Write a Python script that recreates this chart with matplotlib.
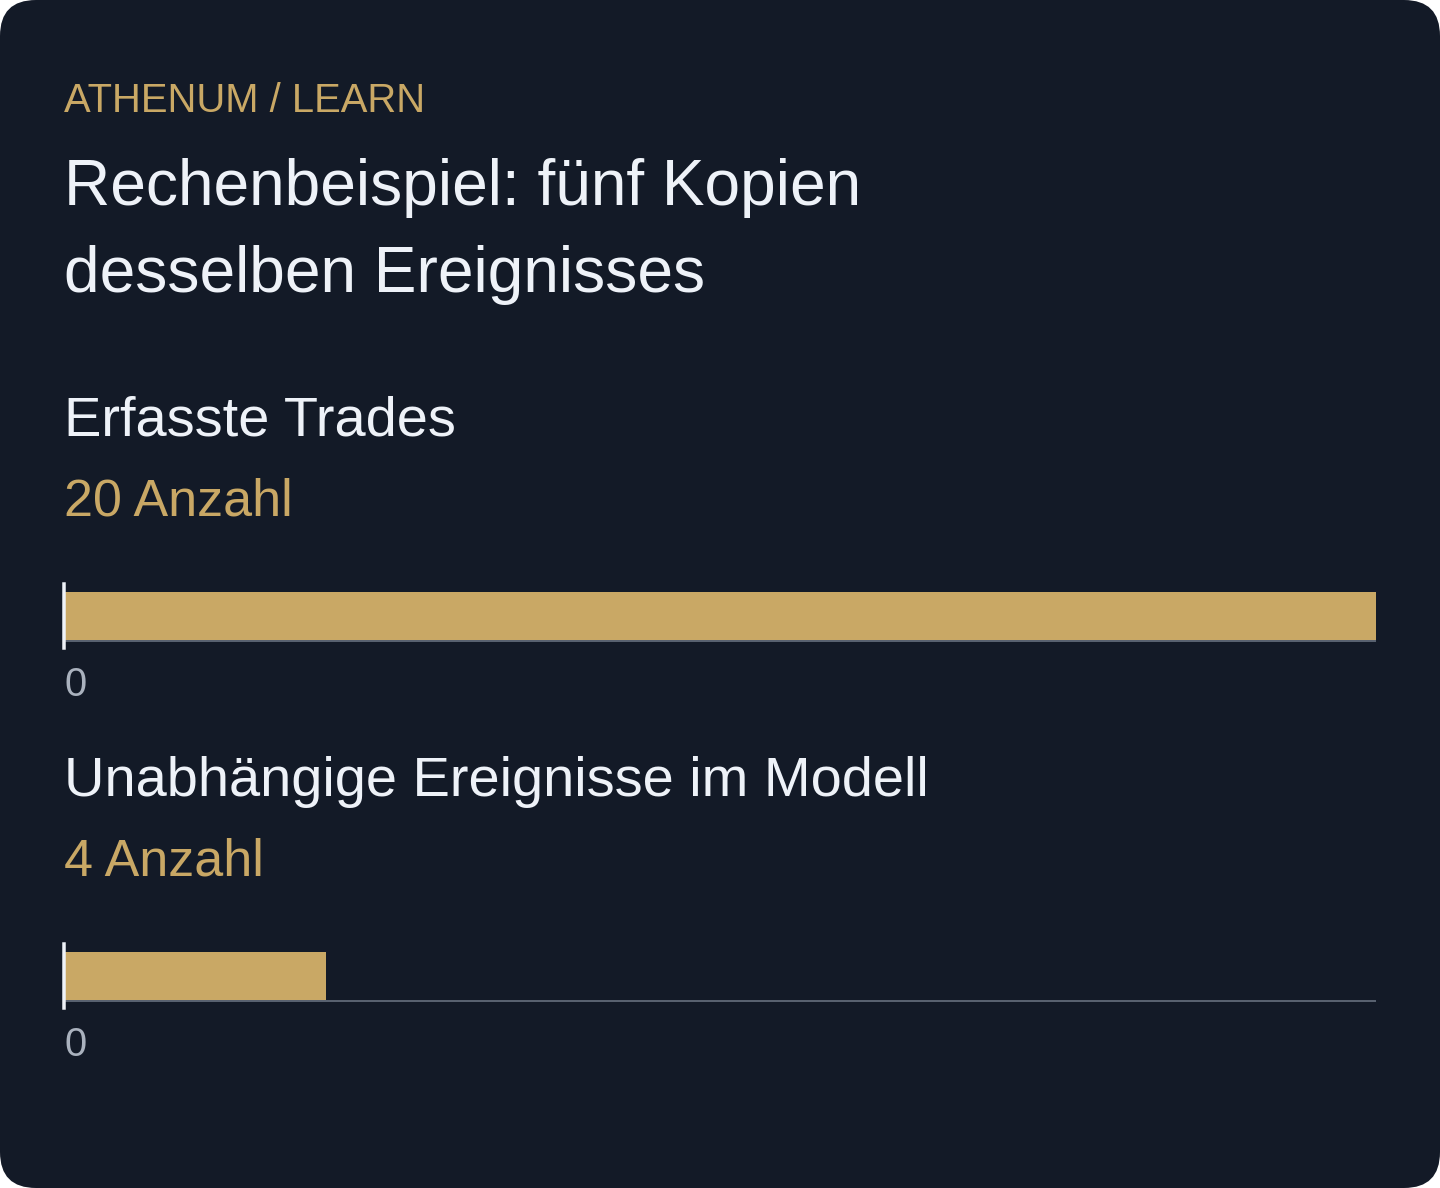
import matplotlib.pyplot as plt
from matplotlib.patches import FancyBboxPatch

# Daten
kategorien = ["Erfasste Trades", "Unabhängige Ereignisse im Modell"]
werte = [20, 4]
einheit = "Anzahl"
titel_zeilen = ["Rechenbeispiel: fünf Kopien", "desselben Ereignisses"]
kicker = "ATHENUM / LEARN"

# Farben
BG = "#131a27"
GOLD = "#c9a865"
WEISS = "#eef2f8"
GRAU = "#aab2be"
LINIE = "#5a6472"

W, H = 1440, 1188
plt.rcParams['font.family'] = ['Liberation Sans', 'DejaVu Sans']

fig = plt.figure(figsize=(W / 100, H / 100), dpi=100)
fig.patch.set_facecolor('white')


def fx(x):
    return x / W


def fy(y):
    return 1 - y / H


def pt(px):
    return px * 72 / 100


# Hintergrund mit abgerundeten Ecken
karte = FancyBboxPatch((0, 0), 1, 1, boxstyle="round,pad=0,rounding_size=%f" % (36 / W),
                       mutation_aspect=W / H, transform=fig.transFigure,
                       facecolor=BG, edgecolor='none', zorder=-5)
fig.patches.append(karte)

fig.text(fx(64), fy(112), kicker, color=GOLD, fontsize=pt(40), va='baseline', ha='left')
fig.text(fx(64), fy(205), titel_zeilen[0], color=WEISS, fontsize=pt(64), va='baseline', ha='left')
fig.text(fx(64), fy(292), titel_zeilen[1], color=WEISS, fontsize=pt(64), va='baseline', ha='left')

xmax = max(werte)
for i, (kat, wert) in enumerate(zip(kategorien, werte)):
    dy = i * 360
    fig.text(fx(64), fy(436 + dy), kat, color=WEISS, fontsize=pt(56), va='baseline', ha='left')
    fig.text(fx(64), fy(515 + dy), f"{wert} {einheit}", color=GOLD, fontsize=pt(52),
             va='baseline', ha='left')

    ax = fig.add_axes([fx(64), fy(648 + dy), 1312 / W, 64 / H], zorder=2)
    ax.set_facecolor('none')
    ax.barh([0.5], [wert], height=0.75, left=0, color=GOLD, zorder=3)
    ax.axhline(0.11, color=LINIE, lw=1.4, zorder=2)
    ax.set_xlim(0, xmax)
    ax.set_ylim(0, 1)
    for s in ['top', 'right', 'bottom']:
        ax.spines[s].set_visible(False)
    ax.spines['left'].set_color(WEISS)
    ax.spines['left'].set_linewidth(pt(3.5))
    ax.spines['left'].set_zorder(4)
    ax.set_yticks([])
    ax.set_xticks([0])
    ax.set_xticklabels(["0"])
    ax.tick_params(axis='x', length=0, pad=pt(18), labelsize=pt(40), labelcolor=GRAU)
    for lab in ax.get_xticklabels():
        lab.set_horizontalalignment('left')

fig.savefig("out.png", dpi=100, facecolor=fig.get_facecolor())
